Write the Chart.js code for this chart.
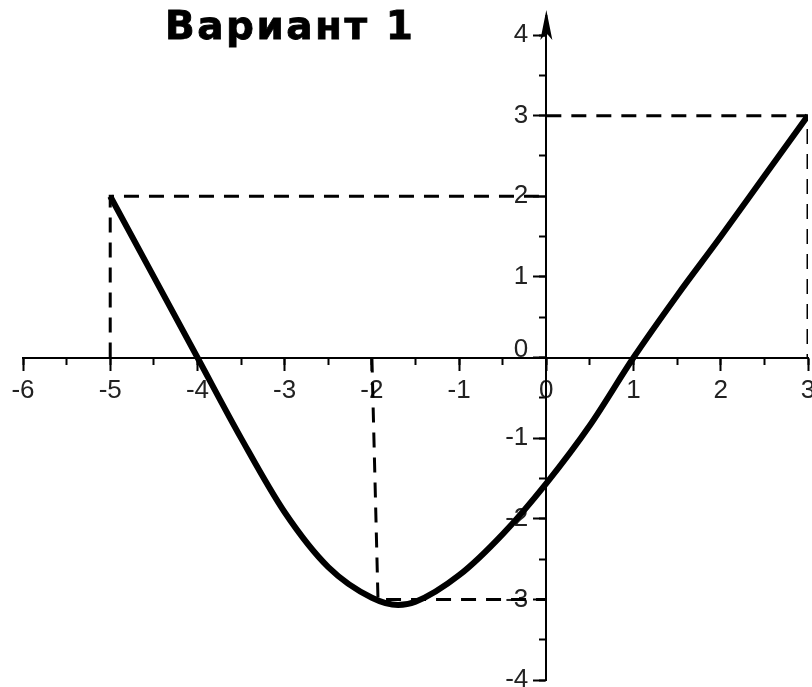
<!DOCTYPE html>
<html lang="ru">
<head>
<meta charset="utf-8">
<title>Вариант 1</title>
<script src="https://cdn.jsdelivr.net/npm/chart.js@4.4.0/dist/chart.umd.min.js"></script>
<style>
  html, body { margin: 0; padding: 0; background: #fff; }
  #wrap { position: relative; width: 812px; height: 687px; }
  #titulo {
    position: absolute; left: 165px; top: 3px;
    font: bold 39px "DejaVu Sans", sans-serif; letter-spacing: 2.5px; color: #000;
    -webkit-text-stroke: 0.8px #000;
  }
  canvas { display: block; }
</style>
</head>
<body>
<div id="wrap">
  <canvas id="grafico" width="812" height="687"></canvas>
  <div id="titulo">Вариант 1</div>
</div>
<script>
// curva principal
const curvaX = [-5, -4.5, -4, -3.5, -3, -2.5, -2, -1.7, -1.5, -1, -0.5, 0, 0.5, 1, 1.5, 2, 2.5, 3];
const curvaY = [2, 1, 0, -1, -1.92, -2.6, -2.98, -3.07, -3.03, -2.70, -2.19, -1.56, -0.84, 0, 0.77, 1.5, 2.25, 3];

// líneas auxiliares punteadas
const guiaAX = [-5, -5, 0];
const guiaAY = [0, 2, 2];
const guiaBX = [0, 3, 3];
const guiaBY = [3, 3, 0];
const guiaCX = [-2, -1.93, 0];
const guiaCY = [0, -3, -3];

// ejes
const xMin = -6, xMax = 3;
const yMin = -4, yMax = 4;

const puntos = (xs, ys) => xs.map((x, i) => ({ x: x, y: ys[i] }));

const guia = (xs, ys) => ({
    data: puntos(xs, ys),
    showLine: true,
    borderColor: '#000',
    borderWidth: 3,
    borderDash: [15, 10],
    pointRadius: 0,
    tension: 0
});

// flecha en la punta del eje Y
const flecha = {
    id: 'flecha',
    afterDraw(chart) {
        const { ctx, chartArea, scales } = chart;
        const x0 = scales.x.getPixelForValue(0);
        const top = chartArea.top;
        ctx.save();
        ctx.strokeStyle = '#000';
        ctx.fillStyle = '#000';
        ctx.lineWidth = 2;
        ctx.beginPath();
        ctx.moveTo(x0, top);
        ctx.lineTo(x0, top - 20);
        ctx.stroke();
        ctx.beginPath();
        ctx.moveTo(x0, top - 25);
        ctx.lineTo(x0 - 6, top + 5);
        ctx.lineTo(x0, top - 2);
        ctx.lineTo(x0 + 6, top + 5);
        ctx.closePath();
        ctx.fill();
        ctx.restore();
    }
};

// las etiquetas del eje Y van separadas a la izquierda del eje
const etiquetasY = {
    id: 'etiquetasY',
    beforeDraw(chart) {
        chart.scales.y.getLabelItems().forEach(it => {
            if (it._movido) return;
            it.options.translation[0] -= 18;
            if (it.label === '0') it.options.translation[1] -= 8;
            it._movido = true;
        });
    }
};

const fuente = { family: '"Liberation Sans", Arial, sans-serif', size: 26 };
const sinPadding = s => { s.paddingLeft = 0; s.paddingRight = 0; s.paddingTop = 0; s.paddingBottom = 0; };
const soloEnteros = v => Number.isInteger(v) ? String(v) : null;

new Chart(document.getElementById('grafico'), {
    type: 'scatter',
    data: {
        datasets: [
            guia(guiaAX, guiaAY),
            guia(guiaBX, guiaBY),
            guia(guiaCX, guiaCY),
            {
                data: puntos(curvaX, curvaY),
                showLine: true,
                borderColor: '#000',
                borderWidth: 6,
                pointRadius: 0,
                cubicInterpolationMode: 'monotone'
            }
        ]
    },
    options: {
        responsive: false,
        animation: false,
        layout: { padding: { left: 23, right: 4, top: 35, bottom: 7 } },
        plugins: { legend: { display: false }, tooltip: { enabled: false } },
        scales: {
            x: {
                type: 'linear', min: xMin, max: xMax,
                position: { y: 0 },
                afterFit: sinPadding,
                ticks: { stepSize: 1, autoSkip: false, maxRotation: 0, padding: 6, font: fuente, color: '#222', callback: soloEnteros },
                grid: { drawOnChartArea: false, drawTicks: true, tickLength: 12, tickColor: '#000', tickWidth: 2 },
                border: { display: true, color: '#000', width: 2 }
            },
            xm: {
                axis: 'x', type: 'linear', min: xMin, max: xMax,
                position: { y: 0 },
                afterFit: sinPadding,
                ticks: { display: false, stepSize: 0.5, autoSkip: false },
                grid: { drawOnChartArea: false, drawTicks: true, tickLength: 7, tickColor: '#000', tickWidth: 2 },
                border: { display: false }
            },
            y: {
                type: 'linear', min: yMin, max: yMax,
                position: { x: 0 },
                afterFit: sinPadding,
                ticks: { stepSize: 1, autoSkip: false, padding: 8, font: fuente, color: '#222', callback: soloEnteros },
                grid: { drawOnChartArea: false, drawTicks: true, tickLength: 12, tickColor: '#000', tickWidth: 2 },
                border: { display: true, color: '#000', width: 2 }
            },
            ym: {
                axis: 'y', type: 'linear', min: yMin, max: yMax,
                position: { x: 0 },
                afterFit: sinPadding,
                ticks: { display: false, stepSize: 0.5, autoSkip: false },
                grid: { drawOnChartArea: false, drawTicks: true, tickLength: 7, tickColor: '#000', tickWidth: 2 },
                border: { display: false }
            }
        }
    },
    plugins: [flecha, etiquetasY]
});
</script>
</body>
</html>
